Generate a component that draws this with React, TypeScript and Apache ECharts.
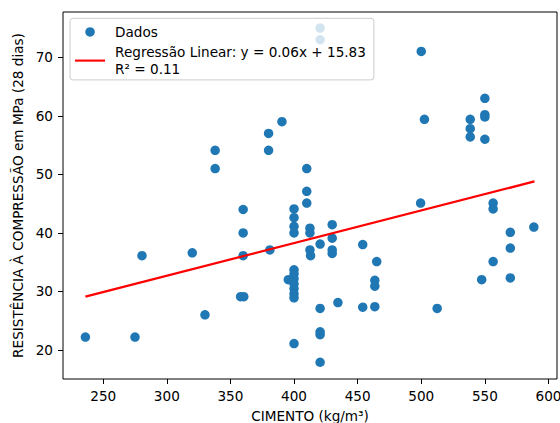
import React, { useEffect, useRef } from 'react';
import * as echarts from 'echarts';

// Cimento (kg/m³) and resistência (MPa)
const CIMENTO = [
  236, 275, 280.5, 320, 330, 338, 338, 358, 360.5, 360, 360, 360,
  380, 380, 381, 390.5, 395.5,
  400, 400, 400, 400, 400, 400, 400, 400, 400, 400, 400, 400,
  410, 410, 410, 412.5, 412.5, 412.5, 413,
  420.5, 420.5, 420.5, 420.5, 420.5, 420.5, 420.5,
  430, 430, 430, 430, 434.5, 454, 454, 463.5, 463.5, 463.5, 465,
  499.5, 500, 502.5, 512.5, 538.5, 538.5, 538.5, 547.5,
  550, 550, 550, 550, 556.5, 556.5, 556.5, 570, 570, 570, 588.5,
];
const RESISTENCIA = [
  22.2, 22.2, 36.1, 36.6, 26.0, 54.1, 51.0, 29.1, 29.1, 44.0, 40.0, 36.1,
  57.0, 54.1, 37.1, 59.0, 32.0,
  44.1, 42.6, 41.1, 40.0, 33.7, 33.0, 32.2, 31.3, 30.5, 29.6, 28.9, 21.1,
  51.0, 47.1, 45.1, 40.8, 40.0, 37.1, 36.1,
  75.0, 73.0, 38.1, 27.1, 23.1, 22.6, 17.9,
  41.4, 39.1, 37.1, 36.5, 28.1, 38.0, 27.3, 31.9, 30.9, 27.4, 35.1,
  45.1, 71.0, 59.4, 27.1, 59.4, 57.8, 56.4, 32.0,
  63.0, 60.2, 59.8, 56.0, 45.1, 44.1, 35.1, 40.1, 37.4, 32.3, 41.0,
];

// Regression line end points as drawn in the reference
const LINE_X = [236, 589];
const LINE_Y = [29.1, 48.8];

const X_TICKS = [250, 300, 350, 400, 450, 500, 550, 600];
const Y_TICKS = [20, 30, 40, 50, 60, 70];

const NAME_DADOS = 'Dados';
const NAME_REG = 'Regressão Linear: y = 0.06x + 15.83\nR² = 0.11';
const X_TITLE = 'CIMENTO (kg/m³)';
const Y_TITLE = 'RESISTÊNCIA À COMPRESSÃO em MPa (28 dias)';

const FONT = 'DejaVu Sans';
const FS = 13.6;

export default function App() {
  const ref = useRef<HTMLDivElement>(null);

  useEffect(() => {
    if (!ref.current) return;
    const chart = echarts.init(ref.current, null, { renderer: 'svg' });
    const scatterData = CIMENTO.map((x, i) => [x, RESISTENCIA[i]]);
    const lineData = LINE_X.map((x, i) => [x, LINE_Y[i]]);

    chart.setOption({
      animation: false,
      backgroundColor: '#ffffff',
      textStyle: { fontFamily: FONT },
      grid: {
        left: 63,
        right: 3,
        top: 12,
        bottom: 44,
        show: true,
        borderColor: '#000000',
        borderWidth: 1,
        backgroundColor: 'transparent',
        containLabel: false,
        outerBoundsMode: 'none',
      },
      legend: {
        left: 70,
        top: 18.3,
        orient: 'vertical',
        padding: [5, 8, 2, 4],
        itemGap: 2.7,
        itemWidth: 30,
        itemHeight: 9.5,
        backgroundColor: 'rgba(255,255,255,0.8)',
        borderColor: '#cccccc',
        borderWidth: 1,
        borderRadius: 3,
        selectedMode: false,
        textStyle: {
          fontFamily: FONT,
          fontSize: FS,
          color: '#000000',
          lineHeight: 17.3,
          padding: [0, 0, 0, 5],
        },
        data: [
          { name: NAME_DADOS, icon: 'circle' },
          {
            name: NAME_REG,
            itemStyle: { color: 'rgba(0,0,0,0)', borderColor: 'rgba(0,0,0,0)', borderWidth: 0 },
            lineStyle: { color: '#ff0000', width: 2.1 },
          },
        ],
      },
      xAxis: {
        type: 'value',
        min: 218.4,
        max: 606.7,
        name: X_TITLE,
        nameLocation: 'middle',
        nameGap: 30,
        nameTextStyle: { fontFamily: FONT, fontSize: FS, color: '#000000' },
        axisLine: { show: false },
        axisTick: {
          show: true,
          inside: false,
          length: 5,
          lineStyle: { color: '#000000', width: 1 },
          customValues: X_TICKS,
        },
        axisLabel: {
          fontFamily: FONT,
          fontSize: FS,
          color: '#000000',
          margin: 10,
          customValues: X_TICKS,
        },
        splitLine: { show: false },
      },
      yAxis: {
        type: 'value',
        min: 15.04,
        max: 77.74,
        name: Y_TITLE,
        nameLocation: 'middle',
        nameGap: 23,
        nameTextStyle: { fontFamily: FONT, fontSize: FS, color: '#000000' },
        axisLine: { show: false },
        axisTick: {
          show: true,
          inside: false,
          length: 5,
          lineStyle: { color: '#000000', width: 1 },
          customValues: Y_TICKS,
        },
        axisLabel: {
          fontFamily: FONT,
          fontSize: FS,
          color: '#000000',
          margin: 10,
          customValues: Y_TICKS,
        },
        splitLine: { show: false },
      },
      series: [
        {
          name: NAME_DADOS,
          type: 'scatter',
          data: scatterData,
          symbol: 'circle',
          symbolSize: 9.5,
          itemStyle: { color: '#1f77b4', opacity: 1 },
          z: 2,
        },
        {
          name: NAME_REG,
          type: 'line',
          data: lineData,
          symbol: 'none',
          showSymbol: false,
          lineStyle: { color: '#ff0000', width: 2.3 },
          itemStyle: { color: '#ff0000' },
          z: 3,
        },
      ],
    });

    return () => {
      chart.dispose();
    };
  }, []);

  return (
    <div
      ref={ref}
      style={{ position: 'fixed', left: 0, top: 0, width: 560, height: 423, background: '#fff' }}
    />
  );
}
